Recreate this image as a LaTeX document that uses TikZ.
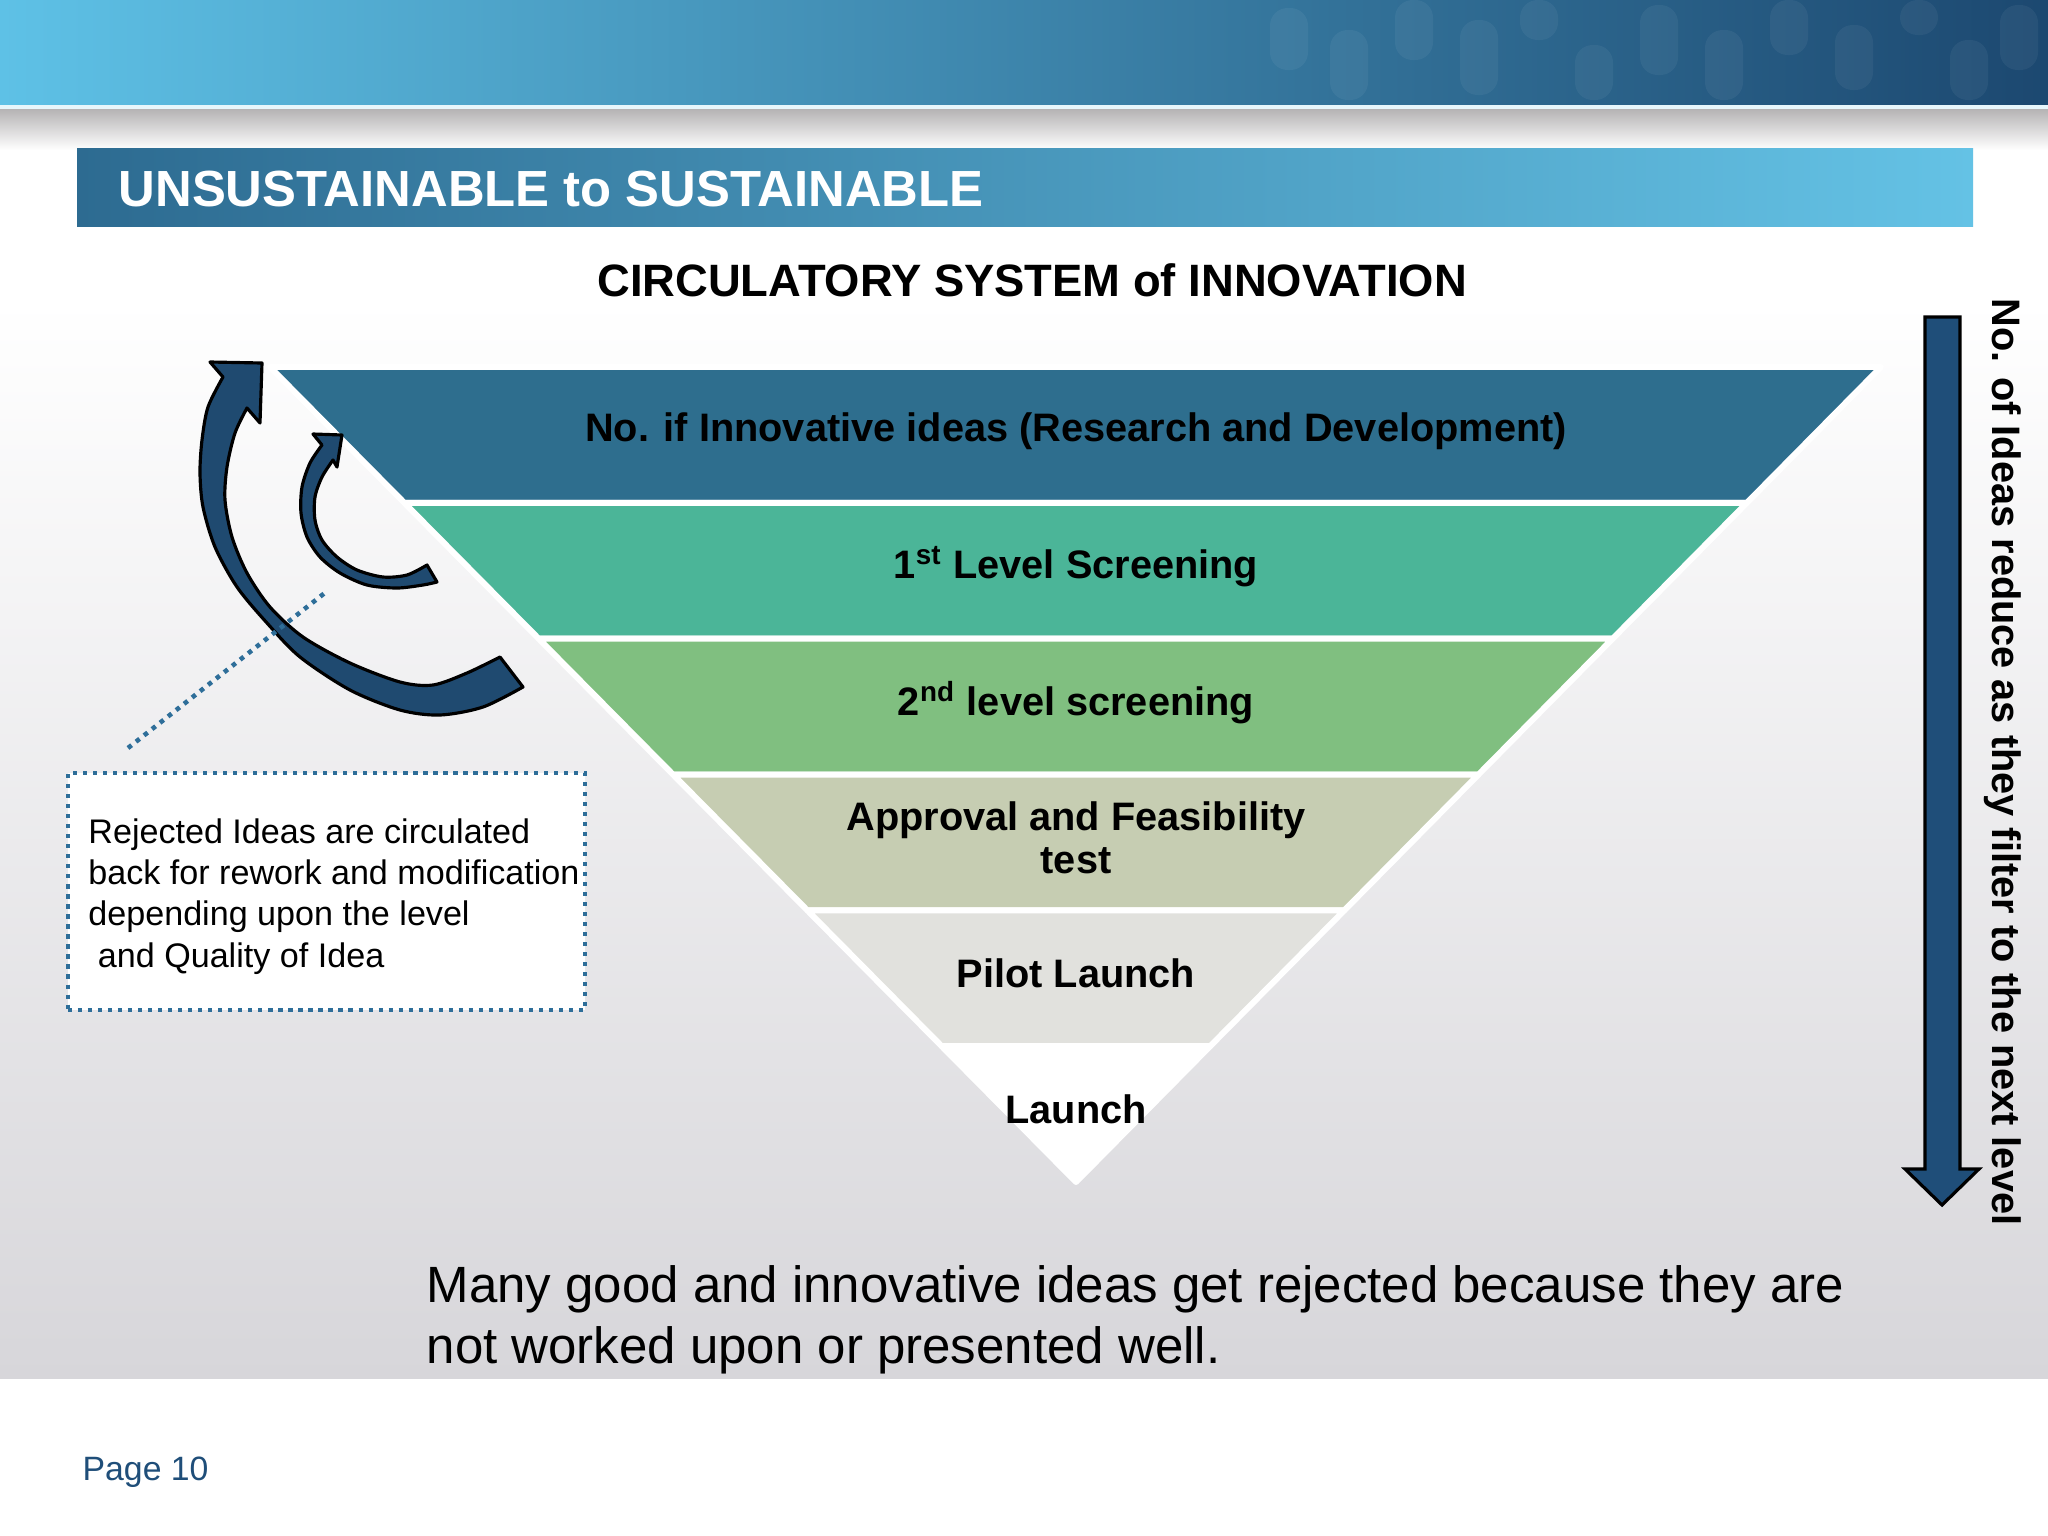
\documentclass[tikz,border=0pt]{standalone}
\usepackage{fontspec}
\setmainfont{Liberation Sans}
\usepackage{xcolor}
\usetikzlibrary{calc,shapes,positioning}
\definecolor{bannerL}{HTML}{5EC1E6}
\definecolor{bannerR}{HTML}{1C4870}
\definecolor{titleL}{HTML}{2D6B91}
\definecolor{titleM}{HTML}{4EA2C9}
\definecolor{titleR}{HTML}{64C2E5}
\definecolor{bandA}{HTML}{2E6E8E}
\definecolor{bandB}{HTML}{4BB598}
\definecolor{bandC}{HTML}{80BF80}
\definecolor{bandD}{HTML}{C6CDB2}
\definecolor{bandE}{HTML}{E1E1DD}
\definecolor{arrowblue}{HTML}{1F4A70}
\definecolor{dotblue}{HTML}{2E6E99}
\definecolor{pageblue}{HTML}{1F4E79}
\definecolor{bggray}{HTML}{D7D6DA}
\definecolor{shadowgray}{HTML}{B5B3B4}
\tikzset{
     band text/.style={font=\fontsize{11.3}{12}\selectfont\bfseries, align=center},
     note box/.style={draw=dotblue, fill=white, line width=1.2pt,
        dash pattern=on 1.2pt off 1.65pt, inner sep=0pt},
     note text/.style={align=left, inner sep=0pt, font=\fontsize{9.7}{11.7}\selectfont},
     dotline/.style={dotblue, line width=1.3pt, dash pattern=on 1.3pt off 1.6pt},
     bent arrow/.style={fill=arrowblue, draw=black, line width=0.9pt, line join=round},
    }

\begin{document}
\begin{tikzpicture}[x=0.01cm, y=-0.01cm, node distance=1.355cm, on grid]
            \useasboundingbox (0,0) rectangle (2048,1536);
            \fill[white] (0,0) rectangle (2048,1536);

            % banner and shadow
            \fill[left color=bannerL, right color=bannerR] (0,0) rectangle (2048,105);
            \foreach \x/\a/\b in {1270/8/70, 1330/30/100, 1395/0/60, 1460/20/95, 1520/0/40,
                                  1575/45/100, 1640/5/75, 1705/30/100, 1770/0/55, 1835/25/90,
                                  1900/0/35, 1950/40/100, 2000/5/70}
              \fill[white, opacity=0.05, rounded corners=5pt] (\x,\a) rectangle ++(38,\b-\a);
            \fill[white!85!bannerL] (0,105) rectangle (2048,109);
            \fill[top color=shadowgray, bottom color=white] (0,109) rectangle (2048,150);
            \fill[top color=white, bottom color=bggray] (0,300) rectangle (2048,1378);

            % title bar
            \fill[left color=titleL, middle color=titleM, right color=titleR] (77,148) rectangle (1973,226);
            \node[anchor=base west, inner sep=0pt, text=white, font=\fontsize{14.45}{16}\selectfont\bfseries]
                  (title) at (118,206) {UNSUSTAINABLE to SUSTAINABLE};
            \node[anchor=base, inner sep=0pt, font=\fontsize{12.9}{15}\selectfont\bfseries]
                  (sub) at (1032,296) {CIRCULATORY SYSTEM of INNOVATION};

            % funnel
            \coordinate (tl) at (270,367);
            \coordinate (tr) at (1881,367);
            \coordinate (apex) at (1076,1182);
            \foreach \i/\col [evaluate=\i as \j using int(\i+1)] in {0/bandA,1/bandB,2/bandC,3/bandD,4/bandE,5/white}
              \filldraw[fill=\col, draw=white, line width=1.7pt, line join=round]
                ($(tl)!\i/6!(apex)$) -- ($(tr)!\i/6!(apex)$) -- ($(tr)!\j/6!(apex)$) -- ($(tl)!\j/6!(apex)$) -- cycle;

            \node [band text] (ideas)                    at (1076,431) {No. if Innovative ideas (Research and Development)};
            \node [band text] (first)   [below=of ideas]   {1\textsuperscript{st} Level Screening};
            \node [band text] (second)  [below=of first]   {2\textsuperscript{nd} level screening};
            \node [band text] (approve) [below=of second]  {Approval and Feasibility\\test};
            \node [band text] (pilot)   [below=of approve] {Pilot Launch};
            \node [band text] (launch)  [below=of pilot]   {Launch};

            % circulating arrows
            \filldraw[bent arrow] (210,362) -- (262,363) -- (260,423)
              -- plot[smooth] coordinates {(247,408) (235,433) (227,467) (225,500) (232,537) (247,573) (270,607)
                                           (303,637) (350,663) (400,682) (433,685) (467,673) (500,657)}
              -- plot[smooth] coordinates {(523,687) (483,707) (440,715) (400,710) (350,690) (300,657) (267,623)
                                           (237,587) (215,547) (203,507) (200,473) (202,440) (208,407) (223,377)}
              -- cycle;
            \filldraw[bent arrow] (313,434) -- (342,435) -- (337,467)
              -- plot[smooth] coordinates {(333,460) (322,477) (315,497) (315,520) (322,540) (337,557) (357,570)
                                           (383,577) (407,575) (427,565)}
              -- plot[smooth] coordinates {(437,582) (423,585) (397,588) (367,585) (340,573) (320,557) (307,537)
                                           (301,513) (302,487) (310,463) (322,445)}
              -- cycle;

            % note
            \node[note box, minimum width=5.17cm, minimum height=2.37cm] (note) at (326.5,891.5) {};
            \node[note text, anchor=west] (notetext) at ($(note.west)+(22,5)$)
                  {Rejected Ideas are circulated\\back for rework and modification\\depending upon the level\\\ and Quality of Idea};
            \coordinate (foot) at (128,748);
            \coordinate (lead) at (326,592);
            \draw[dotline] (foot) -- (lead);

            % right arrow
            \filldraw[fill=pageblue, draw=black, line width=0.9pt, line join=miter]
              (1925,317) -- (1960,317) -- (1960,1169) -- (1979,1169) -- (1942,1205) -- (1905,1169) -- (1925,1169) -- cycle;
            \node[band text, rotate=-90] (reduce) at (2003,762) {No. of Ideas reduce as they filter to the next level};

            % bottom
            \node[anchor=north west, align=left, inner sep=0pt, font=\fontsize{14.5}{17.4}\selectfont]
                  (moral) at (426,1265) {Many good and innovative ideas get rejected because they are\\not worked upon or presented well.};
            \node[anchor=base west, inner sep=0pt, text=pageblue, font=\fontsize{9.6}{11}\selectfont]
                  (page) at (82,1480) {Page 10};
      \end{tikzpicture}
\end{document}
